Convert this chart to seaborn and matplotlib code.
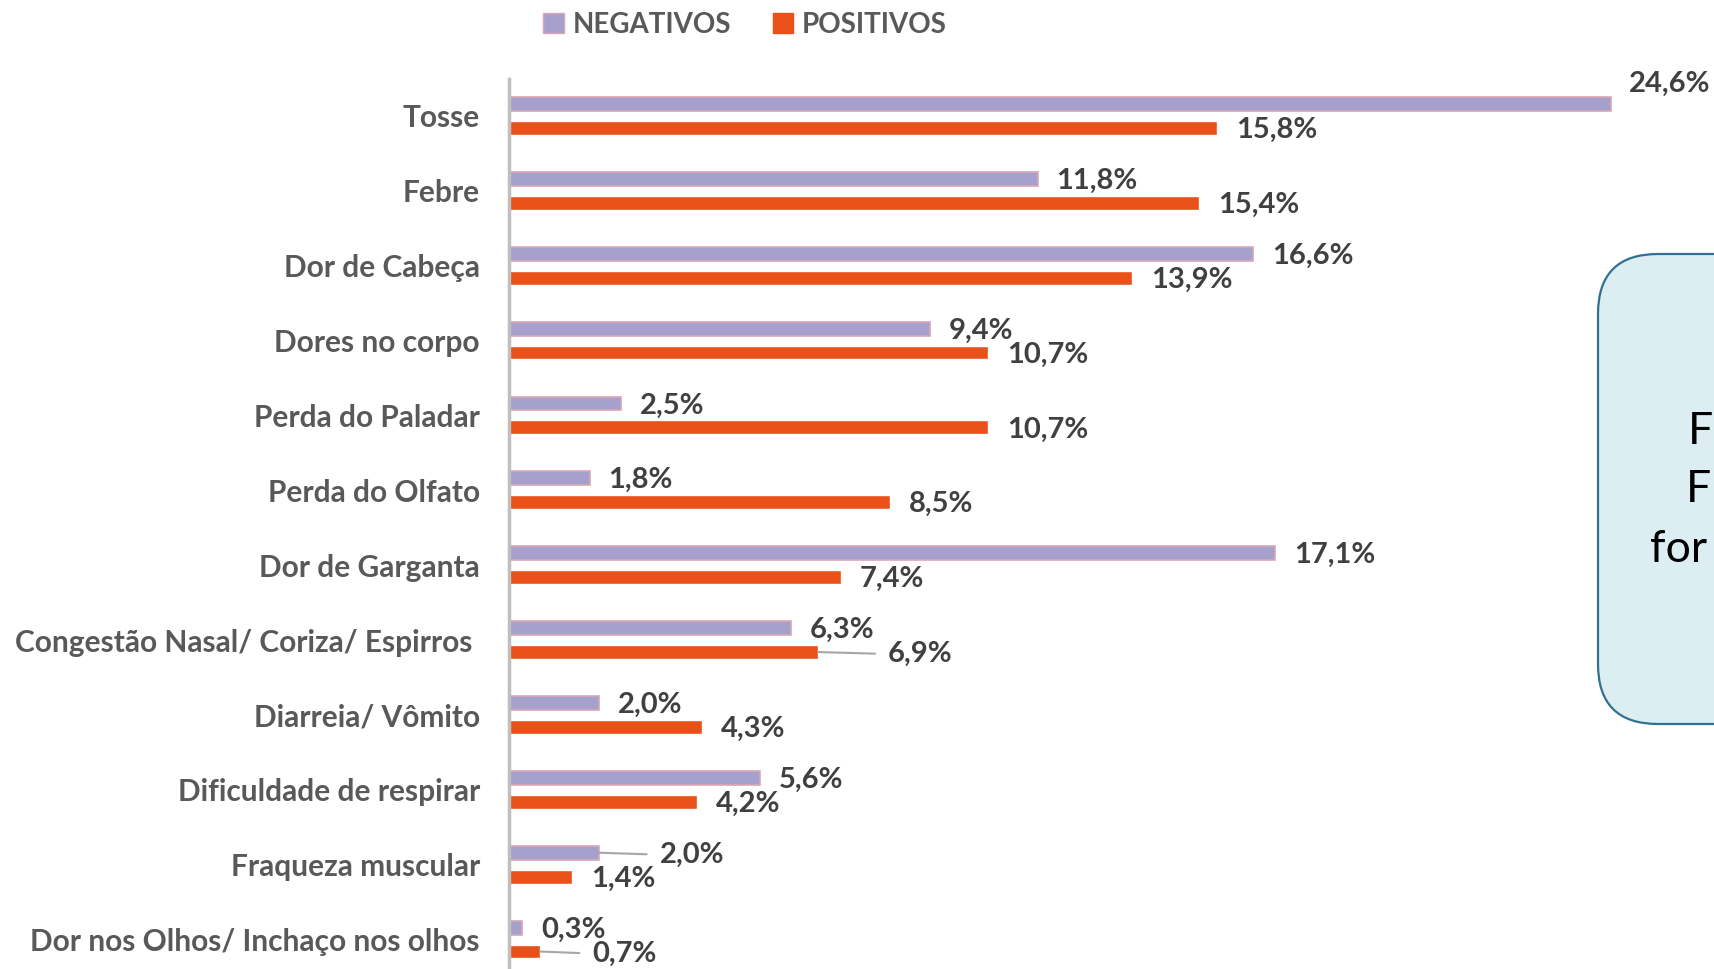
import pandas as pd
import seaborn as sns
import matplotlib.pyplot as plt
import matplotlib.transforms as mtransforms
from matplotlib.patches import FancyBboxPatch, Patch

# dados (% de pacientes)
sintomas = ['Tosse', 'Febre', 'Dor de Cabeça', 'Dores no corpo', 'Perda do Paladar',
            'Perda do Olfato', 'Dor de Garganta', 'Congestão Nasal/ Coriza/ Espirros ',
            'Diarreia/ Vômito', 'Dificuldade de respirar', 'Fraqueza muscular',
            'Dor nos Olhos/ Inchaço nos olhos']
negativos = [24.6, 11.8, 16.6, 9.4, 2.5, 1.8, 17.1, 6.3, 2.0, 5.6, 2.0, 0.3]
positivos = [15.8, 15.4, 13.9, 10.7, 10.7, 8.5, 7.4, 6.9, 4.3, 4.2, 1.4, 0.7]
grupos = ['NEGATIVOS', 'POSITIVOS']
cores = {'NEGATIVOS': '#A5A0CC', 'POSITIVOS': '#E9501A'}

df = pd.DataFrame({
    'sintoma': sintomas * 2,
    'grupo': [grupos[0]] * len(sintomas) + [grupos[1]] * len(sintomas),
    'pct': negativos + positivos,
})

sns.set_theme(style='white')
plt.rcParams['font.family'] = ['Lato', 'DejaVu Sans']

W, H = 1714, 969
fig = plt.figure(figsize=(W / 100, H / 100), dpi=100)
ax = fig.add_axes([509 / W, -8 / H, 1 - 509 / W, (977 - 78.5) / H])
ax.patch.set_alpha(0)

sns.barplot(data=df, y='sintoma', x='pct', hue='grupo', orient='h', palette=cores,
            width=0.64, gap=0.42, saturation=1, ax=ax, legend=False)

# leve borda rosada nas barras dos negativos
for bar in ax.containers[0]:
    bar.set_edgecolor('#D9A7B6')
    bar.set_linewidth(1.2)

ax.set_xlim(0, (W - 509) / 44.8)
ax.set_ylim(len(sintomas) - 0.5, -0.5)
ax.set_xlabel('')
ax.set_ylabel('')
ax.set_xticks([])
sns.despine(ax=ax, top=True, right=True, bottom=True, left=False)
ax.spines['left'].set_color('#BFBFBF')
ax.spines['left'].set_linewidth(2.5)
ax.tick_params(axis='y', length=0, pad=21)
for lbl in ax.get_yticklabels():
    lbl.set_fontsize(21.5)
    lbl.set_fontweight('bold')
    lbl.set_color('#595959')

# rotulos de valor (ajustes manuais como no original)
offsets = {(0, 0): (18, 20)}
leaders = {(1, 7): 70, (0, 10): 61, (1, 11): 52}
for g, cont in enumerate(ax.containers):
    vals = negativos if g == 0 else positivos
    for i, bar in enumerate(cont):
        y = bar.get_y() + bar.get_height() / 2
        txt = f'{vals[i]:.1f}%'.replace('.', ',')
        if (g, i) in leaders:
            ax.annotate(txt, xy=(vals[i], y), xytext=(leaders[(g, i)], -2),
                        textcoords='offset pixels', ha='left', va='center',
                        fontsize=21, fontweight='bold', color='#404040',
                        arrowprops=dict(arrowstyle='-', color='#A6A6A6', lw=1.5,
                                        relpos=(0, 0.5), shrinkA=7, shrinkB=0))
        else:
            dx, dy = offsets.get((g, i), (19, -2))
            ax.annotate(txt, xy=(vals[i], y), xytext=(dx, dy),
                        textcoords='offset pixels', ha='left', va='center',
                        fontsize=21, fontweight='bold', color='#404040')

# legenda
handles = [Patch(facecolor=cores[g], edgecolor='#D9A7B6' if g == 'NEGATIVOS' else cores[g],
                 label=g) for g in grupos]
leg = fig.legend(handles=handles, loc='center', bbox_to_anchor=(745 / W, 1 - 25 / H),
                 ncol=2, frameon=False, handlelength=0.75, handleheight=0.75,
                 handletextpad=0.3, columnspacing=1.5,
                 prop={'size': 20, 'weight': 'bold'})
for t in leg.get_texts():
    t.set_color('#595959')

# caixa de texto cortada na direita
caixa = FancyBboxPatch((1598, H - 724), 320, 470,
                       boxstyle='round,pad=0,rounding_size=60',
                       facecolor='#DDEEF2', edgecolor='#31718F', linewidth=1.6,
                       transform=mtransforms.IdentityTransform(), zorder=3)
fig.add_artist(caixa)
for txt, x, y in [('F', 1688, 432), ('F', 1686, 490), ('for', 1650, 549)]:
    fig.text(x / W, 1 - y / H, txt, fontsize=32, color='black', ha='left', va='center',
             zorder=4)

fig.savefig('out.png', dpi=100)
